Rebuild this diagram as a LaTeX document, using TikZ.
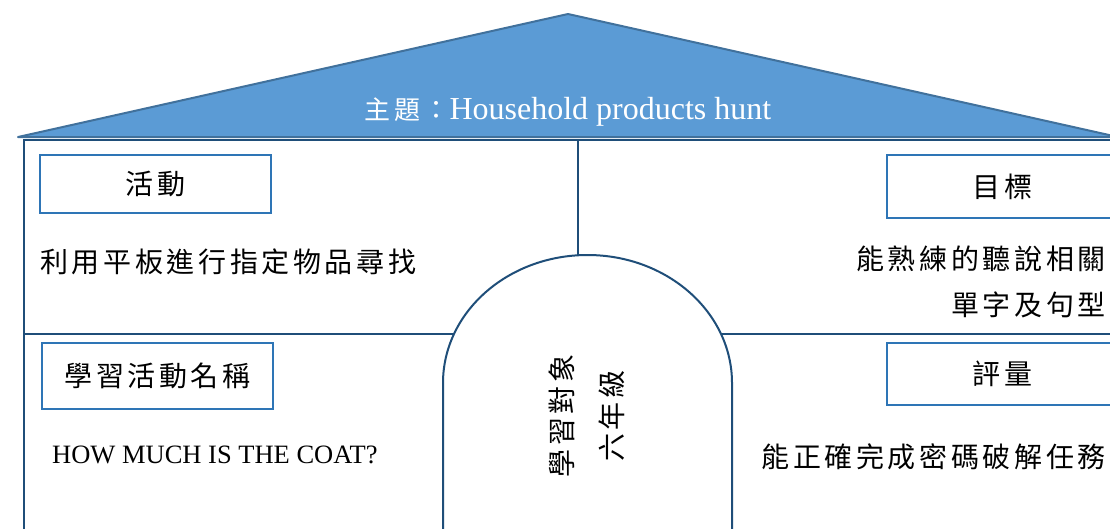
\documentclass[tikz,border=0pt]{standalone}
\usepackage{fontspec}
\setmainfont{Liberation Serif}
\newfontfamily\cjkfont{Noto Sans CJK TC}[LetterSpace=13]
\definecolor{roofblue}{HTML}{5B9BD5}
\definecolor{roofedge}{HTML}{41719C}
\definecolor{wallblue}{HTML}{1F4E79}
\definecolor{boxblue}{HTML}{2E75B6}
\tikzset{
  labelbox/.style = {draw = boxblue, line width = 2.2pt, minimum width = 231pt, inner sep = 0pt,
                     font = \cjkfont\fontsize{28}{30}\selectfont},
  bodytext/.style = {inner sep = 0pt, font = \cjkfont\fontsize{28}{46}\selectfont},
  wall/.style = {draw = wallblue, line width = 2pt}
}
\begin{document}
\begin{tikzpicture}[x = 1pt, y = -1pt]
\useasboundingbox (0, 0) rectangle (1110, 528);
% roof
\draw[fill = roofblue, draw = roofedge, line width = 2pt, line join = round] (18, 137) -- (568, 14) -- (1118, 137) -- cycle;
\node[text = white, font = \fontsize{32}{36}\selectfont, inner sep = 0pt] (theme) at (568, 112) {{\cjkfont\fontsize{26}{30}\selectfont 主題：}Household products hunt};
% walls
\draw[wall] (24, 140) rectangle (1112, 560);
\draw[wall] (578, 140) -- (578, 256);
\draw[wall] (24, 334) -- (453, 334);
\draw[wall] (722, 334) -- (1112, 334);
\draw[wall, fill = white] (443, 560) -- (443, 383) arc[start angle = 180, end angle = 360, x radius = 144.5, y radius = 128] -- (732, 560);
% boxes
\node[labelbox, minimum height = 58pt] (act) at (155.5, 184) {活動};
\node[labelbox, minimum height = 66pt] (actname) at (157.5, 376) {學習活動名稱};
\node[labelbox, minimum height = 63pt] (goal) at (1002.5, 186.5) {目標};
\node[labelbox, minimum height = 62pt] (assess) at (1002.5, 374) {評量};
% texts
\node[bodytext, anchor = west] (acttext) at (40, 262) {利用平板進行指定物品尋找};
\node[bodytext, anchor = north east, align = right] (goaltext) at (1106, 246) {能熟練的聽說相關\\單字及句型};
\node[inner sep = 0pt, anchor = west, font = \fontsize{26.5}{30}\selectfont] (nametext) at (52, 455) {HOW MUCH IS THE COAT?};
\node[bodytext, anchor = east] (assesstext) at (1106, 457) {能正確完成密碼破解任務};
\node[bodytext, rotate = 90, align = center, font = \cjkfont\fontsize{28}{50}\selectfont] (target) at (587, 416) {學習對象\\六年級};
\end{tikzpicture}
\end{document}
